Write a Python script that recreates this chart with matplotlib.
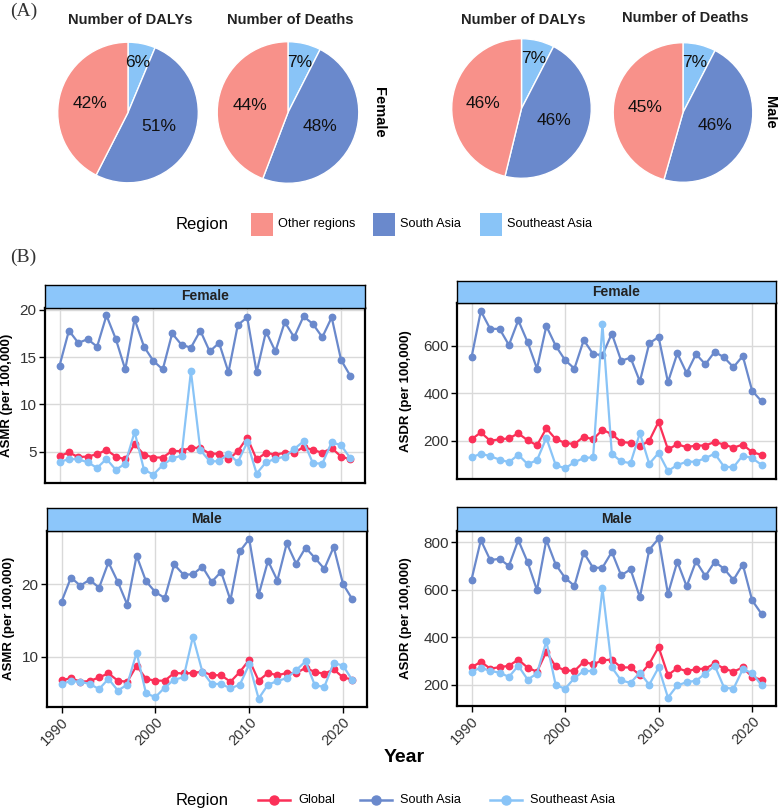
import matplotlib.pyplot as plt
import numpy as np
from matplotlib.patches import Rectangle
from matplotlib.lines import Line2D

plt.rcParams['font.family'] = ['Liberation Sans', 'DejaVu Sans']

W, H = 778, 810

# ---- (A) pie shares, order: Southeast Asia, South Asia, Other regions
pie_regions = ['Southeast Asia', 'South Asia', 'Other regions']
female_dalys = [6.3, 51.2, 42.5]
female_deaths = [7.5, 48.3, 44.2]
male_dalys = [7.6, 46.2, 46.2]
male_deaths = [7.6, 46.8, 45.6]

# ---- (B) yearly rates
years = np.arange(1990, 2022)

female_asmr_global = [4.55, 4.93, 4.45, 4.5, 4.75, 5.2, 4.5, 4.2, 5.8, 4.7,
                      4.4, 4.4, 5.1, 5.07, 5.45, 5.4, 4.8, 4.8, 4.2, 5.07,
                      6.5, 4.2, 4.9, 4.7, 4.9, 4.9, 5.5, 5.2, 4.9, 5.4,
                      4.5, 4.2]
female_asmr_sa = [14.1, 17.8, 16.5, 16.9, 16.1, 19.4, 16.9, 13.7, 19.0, 16.1,
                  14.6, 13.7, 17.5, 16.3, 16.0, 17.8, 15.6, 16.5, 13.4, 18.4,
                  19.2, 13.4, 17.7, 15.6, 18.7, 17.1, 19.3, 18.5, 17.1, 19.2,
                  14.7, 13.0]
female_asmr_sea = [3.9, 4.25, 4.2, 3.9, 3.3, 4.25, 3.1, 3.75, 7.1, 3.1,
                   2.6, 3.6, 4.3, 4.6, 13.5, 5.2, 4.0, 4.0, 4.8, 3.9,
                   6.0, 2.7, 3.9, 4.25, 4.5, 5.3, 6.1, 3.8, 3.75, 6.0,
                   5.7, 4.3]

female_asdr_global = [207, 236, 201, 207, 211, 232, 203, 182, 253, 208,
                      192, 187, 218, 207, 247, 229, 196, 192, 178, 201,
                      281, 165, 186, 174, 181, 181, 196, 185, 172, 185,
                      153, 142]
female_asdr_sa = [551, 746, 671, 671, 603, 707, 615, 504, 683, 600,
                  540, 504, 624, 565, 561, 651, 537, 550, 450, 610,
                  637, 447, 568, 485, 565, 522, 575, 551, 510, 557,
                  411, 367]
female_asdr_sea = [131, 147, 136, 122, 111, 142, 103, 119, 213, 99,
                   85, 111, 128, 132, 690, 146, 114, 107, 233, 104,
                   150, 74, 99, 113, 113, 128, 147, 92, 90, 139,
                   128, 100]

male_asmr_global = [6.8, 7.1, 6.6, 6.7, 7.2, 7.75, 6.75, 6.6, 8.8, 7.0,
                    6.75, 6.75, 7.8, 7.75, 7.8, 8.0, 7.5, 7.5, 6.6, 7.95,
                    9.6, 6.75, 7.8, 7.5, 7.8, 7.8, 8.5, 7.95, 7.7, 8.3,
                    7.2, 6.9]
male_asmr_sa = [17.6, 20.9, 19.8, 20.6, 19.5, 23.0, 20.3, 17.2, 23.9, 20.4,
                18.9, 18.1, 22.7, 21.3, 21.35, 22.4, 20.3, 21.7, 17.8, 24.5,
                26.2, 18.5, 23.2, 20.5, 25.6, 22.8, 25.0, 23.6, 22.1, 25.1,
                20.0, 17.9]
male_asmr_sea = [6.3, 6.7, 6.6, 6.3, 5.6, 7.0, 5.4, 6.2, 10.6, 5.0,
                 4.5, 5.8, 6.9, 7.2, 12.8, 8.0, 6.3, 6.3, 5.7, 6.2,
                 9.0, 4.3, 6.2, 6.7, 7.1, 8.2, 9.4, 6.1, 5.9, 9.2,
                 8.8, 6.8]

male_asdr_global = [273, 297, 268, 274, 280, 306, 272, 255, 339, 277,
                    261, 258, 297, 286, 303, 306, 273, 273, 241, 288,
                    359, 241, 270, 257, 266, 268, 290, 268, 255, 273,
                    233, 221]
male_asdr_sa = [643, 810, 726, 731, 701, 810, 717, 599, 811, 707,
                651, 617, 757, 693, 694, 760, 661, 687, 569, 769,
                817, 583, 719, 615, 721, 658, 719, 689, 642, 707,
                556, 499]
male_asdr_sea = [255, 272, 258, 251, 233, 280, 222, 247, 383, 199,
                 183, 228, 258, 258, 606, 273, 218, 208, 251, 200,
                 273, 146, 197, 211, 217, 247, 280, 188, 183, 265,
                 250, 197]

line_regions = ['Global', 'South Asia', 'Southeast Asia']
year_ticks = [1990, 2000, 2010, 2020]

# colours
pie_colors = ['#89C4F7', '#6A89CC', '#F8918A']   # SE Asia, South Asia, Other
line_colors = ['#FB3058', '#6A89CC', '#89C4F7']  # Global, South Asia, SE Asia
strip_color = '#8CC6FA'
tick_col = '#333333'

fig = plt.figure(figsize=(W / 100, H / 100), dpi=100)


def px_axes(l, t, r, b):
    return fig.add_axes([l / W, 1 - b / H, (r - l) / W, (b - t) / H])


def ftext(x, y, s, **kw):
    fig.text(x / W, 1 - y / H, s, **kw)


# ---------------- (A) pies ----------------
label_r = [0.73, 0.49, 0.55]


def draw_pie(cx, cy, r, shares, title, ty):
    ax = px_axes(cx - r, cy - r, cx + r, cy + r)
    ax.pie(shares, colors=pie_colors, startangle=90, counterclock=False,
           wedgeprops=dict(edgecolor='white', linewidth=1))
    ax.set_xlim(-1.01, 1.01)
    ax.set_ylim(-1.01, 1.01)
    cum = np.cumsum([0] + list(shares[:-1]))
    tot = sum(shares)
    for s, c, rr in zip(shares, cum, label_r):
        ang = np.deg2rad(90 - (c + s / 2) / tot * 360)
        ax.text(rr * np.cos(ang), rr * np.sin(ang), f'{int(s)}%',
                ha='center', va='center', fontsize=12.5, color='#111111')
    ftext(cx + 2, ty, title, ha='center', va='center', fontsize=10.5,
          fontweight='bold', color='#222222')


draw_pie(128, 112.5, 71, female_dalys, 'Number of DALYs', 19.5)
draw_pie(288, 112.5, 71.5, female_deaths, 'Number of Deaths', 20)
draw_pie(521.5, 108.5, 70.5, male_dalys, 'Number of DALYs', 19.5)
draw_pie(683, 112.5, 70.5, male_deaths, 'Number of Deaths', 17.5)

ftext(379, 112, 'Female', rotation=-90, ha='center', va='center',
      fontsize=10.5, fontweight='bold')
ftext(770, 112, 'Male', rotation=-90, ha='center', va='center',
      fontsize=10.5, fontweight='bold')

ftext(10, 11, '(A)', family='Liberation Serif', fontsize=14,
      ha='left', va='center', color='#333333')
ftext(10, 257, '(B)', family='Liberation Serif', fontsize=14,
      ha='left', va='center', color='#333333')


# ---------------- (B) line panels ----------------
def draw_panel(box, strip_top, series, ylabel, yticks, strip, xlab, ylab_x):
    l, t, r, b = box
    ax = px_axes(l, t, r, b)
    for vals, col in zip(series, line_colors):
        ax.plot(years, vals, color=col, lw=1.6, marker='o', ms=4.6,
                zorder=3)
    ax.set_xticks(year_ticks)
    ax.set_yticks(yticks)
    ax.grid(True, color='#D9D9D9', lw=1.0)
    ax.set_axisbelow(True)
    for sp in ax.spines.values():
        sp.set_linewidth(1.6)
        sp.set_color('black')
    ax.tick_params(axis='y', length=4, width=1, labelsize=11,
                   labelcolor=tick_col, pad=2)
    if xlab:
        ax.tick_params(axis='x', length=4, width=1, labelsize=10.5,
                       labelcolor=tick_col, pad=2)
        ax.set_xticklabels([str(y) for y in year_ticks], rotation=45,
                           ha='right', va='top', rotation_mode='anchor')
    else:
        ax.tick_params(axis='x', length=0, labelbottom=False)
    ax.set_ylabel(ylabel, fontweight='bold', fontsize=9.5)
    ax.yaxis.set_label_coords(ylab_x, 0.5)

    sax = px_axes(l, strip_top, r, t)
    sax.set_facecolor(strip_color)
    sax.set_xticks([])
    sax.set_yticks([])
    for sp in sax.spines.values():
        sp.set_linewidth(1.0)
        sp.set_color('black')
    sax.text(0.5, 0.5, strip, ha='center', va='center', fontsize=10,
             fontweight='bold', color='#222222', transform=sax.transAxes)
    return ax


draw_panel((45, 307.5, 365, 482.5), 285,
           [female_asmr_global, female_asmr_sa, female_asmr_sea],
           'ASMR (per 100,000)', [5, 10, 15, 20], 'Female', False, -0.1)
draw_panel((457, 303, 776, 479), 281,
           [female_asdr_global, female_asdr_sa, female_asdr_sea],
           'ASDR (per 100,000)', [200, 400, 600], 'Female', False, -0.142)
draw_panel((47, 531, 367, 706.5), 507.5,
           [male_asmr_global, male_asmr_sa, male_asmr_sea],
           'ASMR (per 100,000)', [10, 20], 'Male', True, -0.1)
draw_panel((457, 530.5, 776, 705.5), 507,
           [male_asdr_global, male_asdr_sa, male_asdr_sea],
           'ASDR (per 100,000)', [200, 400, 600, 800], 'Male', True, -0.142)

ftext(404, 757, 'Year', ha='center', va='center', fontsize=14,
      fontweight='bold')

# ---------------- legends (overlay in pixel coords) ----------------
ov = fig.add_axes([0, 0, 1, 1])
ov.set_xlim(0, W)
ov.set_ylim(H, 0)
ov.axis('off')

# pie legend
ov.text(176, 224, 'Region', ha='left', va='center', fontsize=12)
pie_leg_order = ['Other regions', 'South Asia', 'Southeast Asia']
pie_leg_x = [251, 373, 480]
for name, x0 in zip(pie_leg_order, pie_leg_x):
    col = pie_colors[pie_regions.index(name)]
    ov.add_patch(Rectangle((x0, 213), 22, 23, facecolor=col,
                           edgecolor='none'))
    ov.text(x0 + 27, 224, name, ha='left', va='center', fontsize=9.2)

# line legend
ov.text(176, 800, 'Region', ha='left', va='center', fontsize=12)
line_leg_x = [258, 360, 490]
for name, col, x0 in zip(line_regions, line_colors, line_leg_x):
    ov.add_line(Line2D([x0, x0 + 32], [800, 800], color=col, lw=1.8))
    ov.add_line(Line2D([x0 + 16], [800], color=col, marker='o', ms=6.5))
    ov.text(x0 + 40, 800, name, ha='left', va='center', fontsize=9.2)

fig.savefig('out.png', dpi=100)
